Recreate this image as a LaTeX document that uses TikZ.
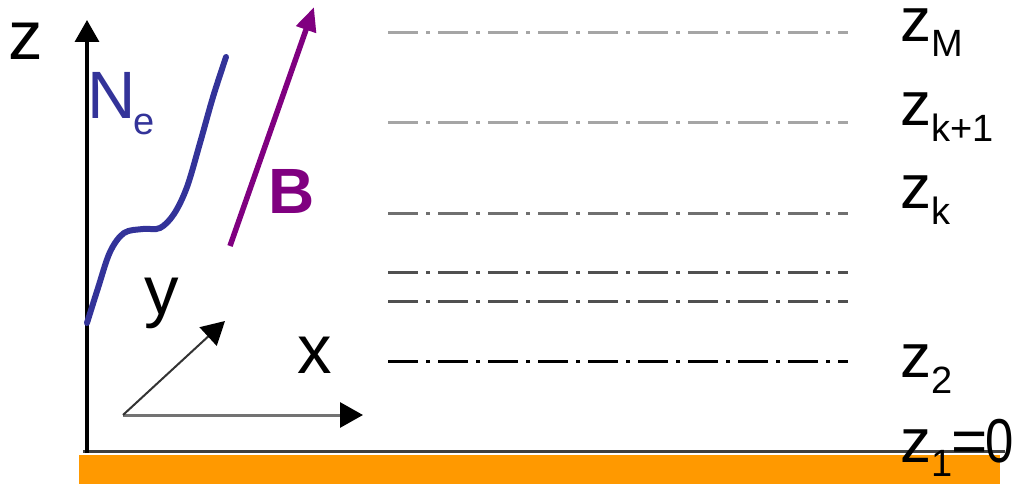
\documentclass[tikz,border=0pt]{standalone}
\usepackage{fontspec}
\setmainfont{Liberation Sans}
\usetikzlibrary{arrows.meta}
\definecolor{neblue}{RGB}{51,51,153}
\definecolor{bpurple}{RGB}{128,0,128}
\definecolor{groundorange}{RGB}{255,153,0}
\definecolor{lvlLight}{RGB}{165,165,165}
\definecolor{lvlMid}{RGB}{112,112,112}
\definecolor{lvlDark}{RGB}{80,80,80}
\definecolor{groundline}{RGB}{64,64,64}
\definecolor{xgray}{RGB}{115,115,115}
\begin{document}
\begin{tikzpicture}[x=1pt,y=-1pt,
  bigtxt/.style={inner sep=0pt, anchor=base west, font=\fontsize{69}{69}\selectfont},
  lbltxt/.style={inner sep=0pt, anchor=base west, text height=34pt, font=\fontsize{62}{62}\selectfont},
  level/.style={line width=3pt, dash pattern=on 30pt off 8pt on 4pt off 8pt},
  axisline/.style={line width=3.5pt, -{Triangle[length=22pt,width=24pt]}},
  smallaxis/.style={-{Triangle[length=23pt,width=25pt,color=black]}},
  necurve/.style={line width=6pt, neblue, line cap=round},
  bline/.style={line width=5.5pt, bpurple, -{Triangle[length=24pt,width=20pt]}}
]
\useasboundingbox (0,0) rectangle (1019,484);
\newcommand{\sub}[2]{\lower#1pt\hbox{\fontsize{38}{38}\selectfont #2}}

% ground
\fill[groundorange] (79,455) rectangle (1000,484);
\coordinate (gL) at (83,451.5);
\coordinate (gR) at (1005,451.5);
\draw[line width=3.5pt, groundline] (gL) -- (gR);

% vertical z axis
\coordinate (zbase) at (87,453);
\coordinate (ztip) at (87,20);
\draw[axisline] (zbase) -- (ztip);
\node[bigtxt] (zlab) at (8.5,60) {z};

% small x/y axes
\coordinate (o) at (123,415);
\coordinate (xend) at (363,415);
\coordinate (yend) at (225,321);
\draw[smallaxis, line width=3pt, xgray] (o) -- (xend);
\draw[smallaxis, line width=2pt, black!80] (o) -- (yend);
\node[bigtxt] (xlab) at (297,373) {x};
\node[bigtxt] (ylab) at (144,314) {y};

% Ne profile
\draw[necurve] plot[smooth, tension=0.55] coordinates
  {(87,323) (98,288) (110,252) (124,233) (143,229) (160,228) (174,214) (187,187) (200,143) (213,97) (226,57)};
\node[inner sep=0pt, anchor=base west, font=\fontsize{67}{67}\selectfont, text=neblue] (Nlab) at (87,118) {N};
\node[inner sep=0pt, anchor=base west, font=\fontsize{38}{38}\selectfont, text=neblue] (elab) at (133,135) {e};

% B field
\coordinate (Bstart) at (230,246);
\coordinate (Bend) at (314,7);
\draw[bline] (Bstart) -- (Bend);
\node[inner sep=0pt, anchor=base west, font=\bfseries\fontsize{64}{64}\selectfont, text=bpurple] (Blab) at (268,213) {B};

% levels
\coordinate (L1a) at (388,33); \coordinate (L1b) at (848,33);
\coordinate (L2a) at (388,123); \coordinate (L2b) at (848,123);
\coordinate (L3a) at (388,213); \coordinate (L3b) at (848,213);
\coordinate (L4a) at (388,272); \coordinate (L4b) at (848,272);
\coordinate (L5a) at (388,301); \coordinate (L5b) at (848,301);
\coordinate (L6a) at (388,361); \coordinate (L6b) at (848,361);
\draw[level, lvlLight] (L1a) -- (L1b);
\draw[level, lvlLight] (L2a) -- (L2b);
\draw[level, lvlMid] (L3a) -- (L3b);
\draw[level, lvlDark] (L4a) -- (L4b);
\draw[level, lvlDark] (L5a) -- (L5b);
\draw[level, black] (L6a) -- (L6b);

% labels
\node[lbltxt] (zM) at (900,42) {z\sub{15}{M}};
\node[lbltxt] (zk1) at (900,125) {z\sub{17}{k+1}};
\node[lbltxt] (zk) at (900,208) {z\sub{16}{k}};
\node[lbltxt] (z2) at (900,377) {z\sub{16}{2}};
\node[lbltxt] (z1) at (900,462) {z\sub{14}{1}\kern-1pt=\kern-2pt\scalebox{0.82}[1]{0}};
\end{tikzpicture}
\end{document}
